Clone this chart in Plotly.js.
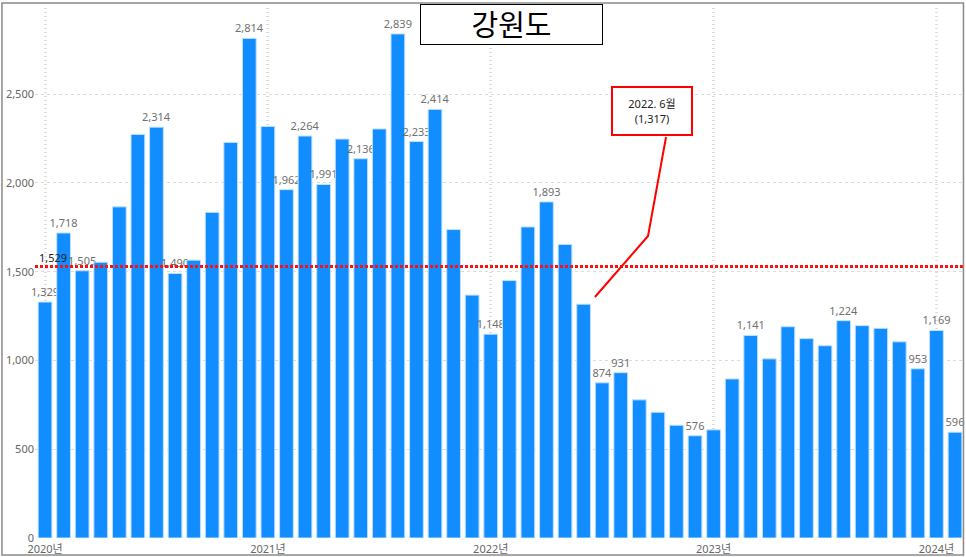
<!DOCTYPE html>
<html><head><meta charset="utf-8">
<script src="https://cdn.plot.ly/plotly-3.0.1.min.js"></script>
<style>html,body{margin:0;padding:0;background:#fff}#c{width:966px;height:557px}</style>
</head><body><div id="c"></div>
<script>
var months = [
 "2020-01","2020-02","2020-03","2020-04","2020-05","2020-06","2020-07","2020-08","2020-09","2020-10","2020-11","2020-12",
 "2021-01","2021-02","2021-03","2021-04","2021-05","2021-06","2021-07","2021-08","2021-09","2021-10","2021-11","2021-12",
 "2022-01","2022-02","2022-03","2022-04","2022-05","2022-06","2022-07","2022-08","2022-09","2022-10","2022-11","2022-12",
 "2023-01","2023-02","2023-03","2023-04","2023-05","2023-06","2023-07","2023-08","2023-09","2023-10","2023-11","2023-12",
 "2024-01","2024-02"];
var values = [
 1329,1718,1505,1553,1865,2273,2314,1490,1565,1834,2228,2814,
 2318,1962,2264,1991,2247,2136,2304,2839,2233,2414,1737,1368,
 1148,1450,1752,1893,1653,1317,874,931,778,708,635,576,
 609,896,1141,1009,1190,1123,1083,1224,1196,1181,1105,953,
 1169,596];
var labels = [
 "1,329","1,718","1,505","","","","2,314","1,490","","","","2,814",
 "","1,962","2,264","1,991","","2,136","","2,839","2,233","2,414","","",
 "1,148","","","1,893","","","874","931","","","","576",
 "","","1,141","","","","","1,224","","","","953",
 "1,169","596"];
var yearTickVals = ["2020-01","2021-01","2022-01","2023-01","2024-01"];
var yearTickText = ["2020년","2021년","2022년","2023년","2024년"];
var average = 1529;
var averageLabel = "1,529";
var title = "강원도";
var calloutText = "2022. 6월<br>(1,317)";

var FONT = "Noto Sans, Noto Sans CJK KR, sans-serif";
var trace = {
  type: "bar", x: months, y: values, text: labels,
  textposition: "outside", constraintext: "none", cliponaxis: false,
  textfont: {family: FONT, size: 11, color: "#707070"},
  marker: {color: "#118DFF", line: {color: "#BFE0FF", width: 1}},
  width: 0.74, hoverinfo: "x+y"
};
var layout = {
  width: 966, height: 557,
  margin: {l: 35, r: 3, t: 8, b: 19},
  paper_bgcolor: "#fff", plot_bgcolor: "#fff",
  font: {family: FONT, size: 11, color: "#666"},
  showlegend: false,
  xaxis: {type: "category", range: [-0.54, 49.43], tickvals: yearTickVals, ticktext: yearTickText,
    showgrid: true, gridcolor: "#dcdcdc", gridwidth: 3, griddash: "1px,3px", ticks: "", ticklen: 0,
    ticklabelstandoff: 3,
    showline: false, zeroline: false, tickfont: {size: 11, color: "#666"}, tickangle: 0},
  yaxis: {range: [0, 2985], tickvals: [0, 500, 1000, 1500, 2000, 2500], ticktext: ["0","500","1,000","1,500","2,000","2,500"],
    showgrid: true, gridcolor: "#dcdcdc", gridwidth: 1, griddash: "dot", zeroline: false, showline: false,
    ticks: "", tickfont: {size: 11, color: "#666"}},
  shapes: [
    {type: "line", xref: "paper", x0: 0, x1: 1, yref: "y", y0: average, y1: average,
     line: {color: "#FF1010", width: 3, dash: "3px,2px"}, layer: "above"},
    {type: "path", xref: "paper", yref: "paper", path: "M 0.6034 0.4547 L 0.6606 0.5698 L 0.680 0.7566",
     line: {color: "#FF0000", width: 2}, layer: "above"},
    {type: "rect", xref: "paper", yref: "paper", x0: -0.0356, x1: 1.0005, y0: -0.0320, y1: 1.0094,
     line: {color: "#8a8a8a", width: 1.5}, layer: "above"}
  ],
  annotations: [
    {xref: "paper", yref: "paper", x: 0.513, y: 0.968, text: title, showarrow: false,
     font: {family: FONT, size: 29, color: "#000"}, bgcolor: "#fff", bordercolor: "#000", borderwidth: 1,
     width: 181, height: 39, borderpad: 0, xanchor: "center", yanchor: "middle"},
    {xref: "paper", yref: "paper", x: 0.665, y: 0.806, text: calloutText, showarrow: false,
     font: {family: FONT, size: 11, color: "#222"}, bgcolor: "#fff", bordercolor: "#FF0000", borderwidth: 2,
     width: 78, height: 46, borderpad: 0, xanchor: "center", yanchor: "middle"},
    {xref: "x", yref: "y", x: months[0], y: average, text: averageLabel, showarrow: false,
     font: {family: FONT, size: 11, color: "#222"}, yanchor: "bottom", xanchor: "left", xshift: -8, yshift: 0}
  ]
};
Plotly.newPlot("c", [trace], layout, {displayModeBar: false, staticPlot: true});
</script></body></html>
